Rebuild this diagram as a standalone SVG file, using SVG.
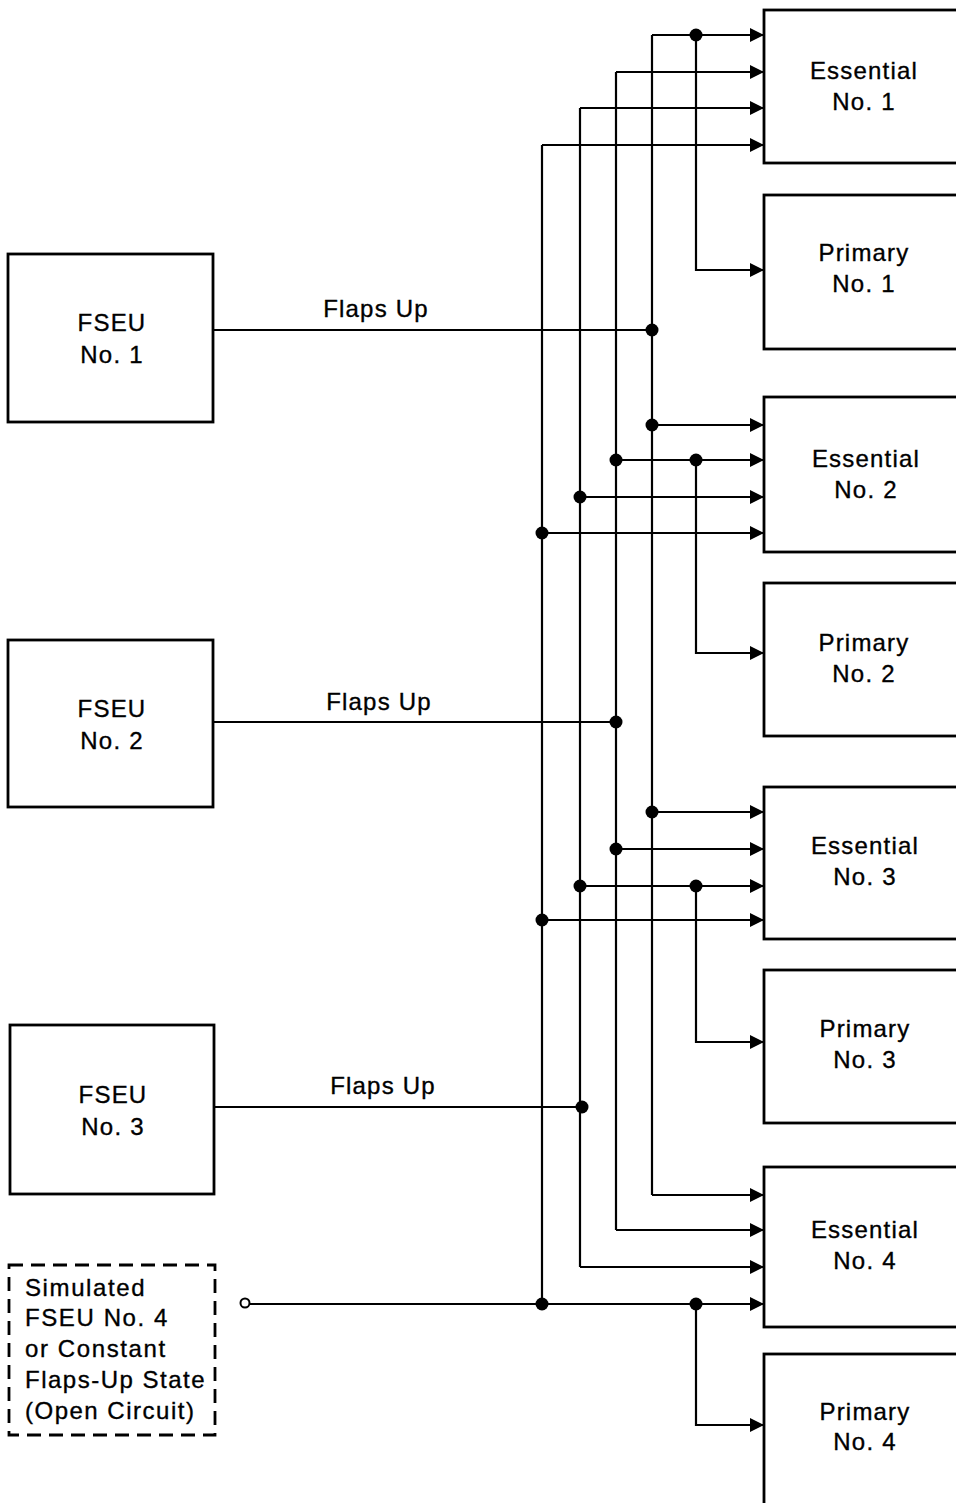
<svg xmlns="http://www.w3.org/2000/svg" width="956" height="1503" viewBox="0 0 956 1503">
<style>
text{font-family:"Liberation Sans",Arial,sans-serif;font-size:24px;letter-spacing:1.2px;fill:#000;stroke:#000;stroke-width:0.35}
.c{text-anchor:middle}
.box{fill:#fff;stroke:#000;stroke-width:2.8}
.dash{fill:#fff;stroke:#000;stroke-width:2.8;stroke-dasharray:14 8}
.w{fill:none;stroke:#000;stroke-width:2.2}
.a{fill:none;stroke:#000;stroke-width:2.2;marker-end:url(#ah)}
.d{fill:#000}
</style>
<defs>
<marker id="ah" markerUnits="userSpaceOnUse" markerWidth="16" markerHeight="16" refX="15" refY="8" orient="auto">
<path d="M1,1 L15,8 L1,15 Z" fill="#000"/>
</marker>
</defs>
<rect width="956" height="1503" fill="#fff" stroke="none"/>

<g id="connectors">
<path class="w" d="M652,35 V1195"/>
<path class="w" d="M616,72 V1230"/>
<path class="w" d="M580,108 V1267"/>
<path class="w" d="M542,145 V1304"/>
<path class="w" d="M213,330 H652"/>
<path class="w" d="M213,722 H616"/>
<path class="w" d="M214,1107 H580"/>
<path class="a" d="M652,35 H764"/>
<path class="a" d="M616,72 H764"/>
<path class="a" d="M580,108 H764"/>
<path class="a" d="M542,145 H764"/>
<path class="a" d="M652,425 H764"/>
<path class="a" d="M616,460 H764"/>
<path class="a" d="M580,497 H764"/>
<path class="a" d="M542,533 H764"/>
<path class="a" d="M652,812 H764"/>
<path class="a" d="M616,849 H764"/>
<path class="a" d="M580,886 H764"/>
<path class="a" d="M542,920 H764"/>
<path class="a" d="M652,1195 H764"/>
<path class="a" d="M616,1230 H764"/>
<path class="a" d="M580,1267 H764"/>
<path class="a" d="M249,1304 H764"/>
<path class="a" d="M696,35 V270 H764"/>
<path class="a" d="M696,460 V653 H764"/>
<path class="a" d="M696,886 V1042 H764"/>
<path class="a" d="M696,1304 V1425 H764"/>
<circle class="d" cx="696" cy="35" r="6.5"/>
<circle class="d" cx="652" cy="330" r="6.5"/>
<circle class="d" cx="652" cy="425" r="6.5"/>
<circle class="d" cx="616" cy="460" r="6.5"/>
<circle class="d" cx="696" cy="460" r="6.5"/>
<circle class="d" cx="580" cy="497" r="6.5"/>
<circle class="d" cx="542" cy="533" r="6.5"/>
<circle class="d" cx="616" cy="722" r="6.5"/>
<circle class="d" cx="652" cy="812" r="6.5"/>
<circle class="d" cx="616" cy="849" r="6.5"/>
<circle class="d" cx="580" cy="886" r="6.5"/>
<circle class="d" cx="696" cy="886" r="6.5"/>
<circle class="d" cx="542" cy="920" r="6.5"/>
<circle class="d" cx="582" cy="1107" r="6.5"/>
<circle class="d" cx="542" cy="1304" r="6.5"/>
<circle class="d" cx="696" cy="1304" r="6.5"/>
<circle cx="245" cy="1303" r="4.5" fill="#fff" stroke="#000" stroke-width="2"/>
<text class="c" x="376" y="317">Flaps Up</text>
<text class="c" x="379" y="710">Flaps Up</text>
<text class="c" x="383" y="1094">Flaps Up</text>
</g>

<g id="fseu1"><rect class="box" x="8" y="254" width="205" height="168"/><text class="c" x="112" y="331">FSEU</text><text class="c" x="112" y="363">No. 1</text></g>
<g id="fseu2"><rect class="box" x="8" y="640" width="205" height="167"/><text class="c" x="112" y="717">FSEU</text><text class="c" x="112" y="749">No. 2</text></g>
<g id="fseu3"><rect class="box" x="10" y="1025" width="204" height="169"/><text class="c" x="113" y="1103">FSEU</text><text class="c" x="113" y="1135">No. 3</text></g>
<g id="fseu4sim"><rect class="dash" x="9" y="1265" width="206" height="170"/>
<text x="25" y="1296" style="letter-spacing:1.6px">Simulated</text>
<text x="25" y="1326" style="letter-spacing:1.6px">FSEU No. 4</text>
<text x="25" y="1357" style="letter-spacing:1.6px">or Constant</text>
<text x="25" y="1388" style="letter-spacing:1.5px">Flaps-Up State</text>
<text x="25" y="1419" style="letter-spacing:1.5px">(Open Circuit)</text>
</g>

<g id="ess1"><rect class="box" x="764" y="10" width="200" height="153"/><text class="c" x="864" y="79">Essential</text><text class="c" x="864" y="110">No. 1</text></g>
<g id="pri1"><rect class="box" x="764" y="195" width="200" height="154"/><text class="c" x="864" y="261">Primary</text><text class="c" x="864" y="292">No. 1</text></g>
<g id="ess2"><rect class="box" x="764" y="397" width="200" height="155"/><text class="c" x="866" y="467">Essential</text><text class="c" x="866" y="498">No. 2</text></g>
<g id="pri2"><rect class="box" x="764" y="583" width="200" height="153"/><text class="c" x="864" y="651">Primary</text><text class="c" x="864" y="682">No. 2</text></g>
<g id="ess3"><rect class="box" x="764" y="787" width="200" height="152"/><text class="c" x="865" y="854">Essential</text><text class="c" x="865" y="885">No. 3</text></g>
<g id="pri3"><rect class="box" x="764" y="970" width="200" height="153"/><text class="c" x="865" y="1037">Primary</text><text class="c" x="865" y="1068">No. 3</text></g>
<g id="ess4"><rect class="box" x="764" y="1167" width="200" height="160"/><text class="c" x="865" y="1238">Essential</text><text class="c" x="865" y="1269">No. 4</text></g>
<g id="pri4"><rect class="box" x="764" y="1354" width="200" height="160"/><text class="c" x="865" y="1420">Primary</text><text class="c" x="865" y="1450">No. 4</text></g>
</svg>
